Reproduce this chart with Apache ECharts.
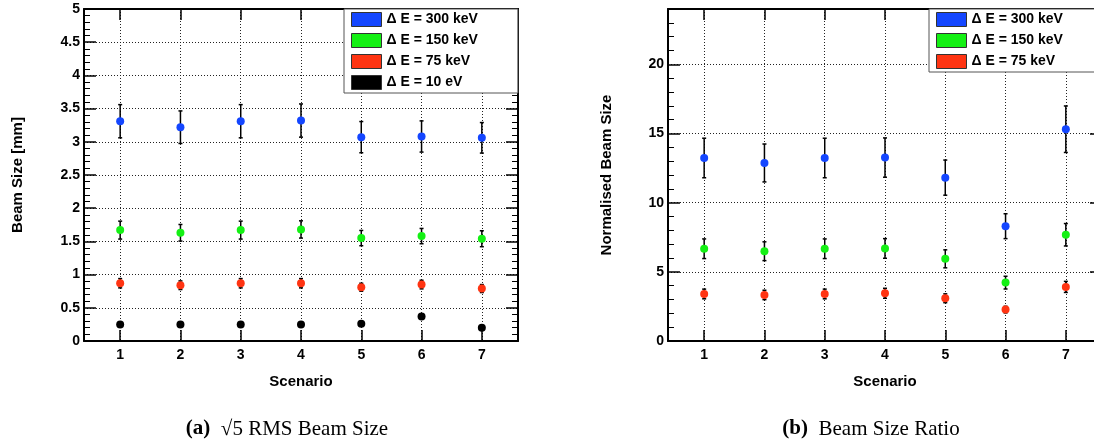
<!DOCTYPE html>
<html>
<head>
<meta charset="utf-8">
<title>Beam Size</title>
<script src="https://cdn.jsdelivr.net/npm/echarts@6.0.0/dist/echarts.min.js"></script>
<style>
	html, body {margin: 0; padding: 0; background: #fff;}
	#main {width: 1094px; height: 446px;}
</style>
</head>
<body>
<div id="main"></div>
<script>
// scenario numbers (x tick labels)
var scenarios = [1, 2, 3, 4, 5, 6, 7];
var seriesNames = ["Δ E = 300 keV", "Δ E = 150 keV", "Δ E = 75 keV", "Δ E = 10 eV"];

// (a) sqrt5 RMS beam size [mm]
var sizeE300 = [3.31, 3.22, 3.31, 3.32, 3.07, 3.08, 3.06];
var sizeE300Err = [0.25, 0.245, 0.25, 0.25, 0.235, 0.235, 0.23];
var sizeE150 = [1.67, 1.63, 1.67, 1.68, 1.55, 1.58, 1.54];
var sizeE150Err = [0.135, 0.125, 0.135, 0.13, 0.115, 0.115, 0.12];
var sizeE75 = [0.87, 0.84, 0.87, 0.87, 0.81, 0.85, 0.79];
var sizeE75Err = [0.07, 0.065, 0.07, 0.07, 0.06, 0.065, 0.06];
var sizeE10 = [0.25, 0.25, 0.25, 0.25, 0.26, 0.37, 0.20];
var sizeE10Err = [0.01, 0.01, 0.01, 0.01, 0.01, 0.015, 0.01];

// (b) normalised beam size (ratio)
var ratioE300 = [13.23, 12.87, 13.23, 13.26, 11.81, 8.30, 15.31];
var ratioE300Err = [1.43, 1.37, 1.43, 1.42, 1.27, 0.9, 1.68];
var ratioE150 = [6.67, 6.49, 6.67, 6.69, 5.94, 4.22, 7.68];
var ratioE150Err = [0.71, 0.68, 0.71, 0.71, 0.65, 0.46, 0.81];
var ratioE75 = [3.40, 3.33, 3.40, 3.45, 3.09, 2.27, 3.91];
var ratioE75Err = [0.35, 0.34, 0.35, 0.36, 0.32, 0.24, 0.4];

var colors = ["#1446ff", "#14f014", "#ff3412", "#000000"];
var labelFont = "Liberation Sans";

function points(values) {
	var list = [];
	for (var i = 0; i < scenarios.length; i++) {
		list.push([scenarios[i], values[i]]);
	}
	return list;
}

function errors(values, errs) {
	var list = [];
	for (var i = 0; i < scenarios.length; i++) {
		list.push([scenarios[i], values[i] - errs[i], values[i] + errs[i]]);
	}
	return list;
}

function renderErrorBar(params, api) {
	var top = api.coord([api.value(0), api.value(2)]);
	var bottom = api.coord([api.value(0), api.value(1)]);
	var cap = 2;
	var style = {stroke : "#000", lineWidth : 1.5};
	return {
		type : "group",
		children : [
			{type : "line", shape : {x1 : top[0], y1 : top[1], x2 : bottom[0], y2 : bottom[1]}, style : style},
			{type : "line", shape : {x1 : top[0] - cap, y1 : top[1], x2 : top[0] + cap, y2 : top[1]}, style : style},
			{type : "line", shape : {x1 : bottom[0] - cap, y1 : bottom[1], x2 : bottom[0] + cap, y2 : bottom[1]}, style : style}
		]
	};
}

function gridLine() {
	return {show : true, lineStyle : {color : "#222", width : 1, type : [1, 2]}};
}

function xAxisFor(gridIndex, position, withLabels) {
	return {
		type : "value",
		gridIndex : gridIndex,
		position : position,
		min : 0.4,
		max : 7.6,
		name : withLabels ? "Scenario" : "",
		nameLocation : "middle",
		nameGap : 33,
		nameTextStyle : {fontFamily : labelFont, fontWeight : "bold", fontSize : 15, color : "#000"},
		axisLine : {show : true, onZero : false, lineStyle : {color : "#000", width : 2}},
		axisTick : {show : true, inside : true, length : 11, customValues : scenarios, lineStyle : {color : "#000", width : 1.5}},
		axisLabel : {show : withLabels, customValues : scenarios, margin : 7, fontFamily : labelFont, fontWeight : "bold", fontSize : 14, color : "#000"},
		splitLine : withLabels ? gridLine() : {show : false},
		minorTick : {show : false}
	};
}

function yAxisFor(gridIndex, position, max, interval, name, nameGap) {
	var withLabels = position == "left";
	return {
		type : "value",
		gridIndex : gridIndex,
		position : position,
		min : 0,
		max : max,
		interval : interval,
		name : withLabels ? name : "",
		nameLocation : "middle",
		nameGap : nameGap,
		nameTextStyle : {fontFamily : labelFont, fontWeight : "bold", fontSize : 15, color : "#000"},
		axisLine : {show : true, onZero : false, lineStyle : {color : "#000", width : 2}},
		axisTick : {show : true, inside : true, length : 12, lineStyle : {color : "#000", width : 1.5}},
		minorTick : {show : true, splitNumber : 5, length : 6, lineStyle : {color : "#000", width : 1}},
		axisLabel : {
			show : withLabels, margin : 4, showMaxLabel : max % interval == 0,
			fontFamily : labelFont, fontWeight : "bold", fontSize : 14, color : "#000"
		},
		splitLine : withLabels ? gridLine() : {show : false}
	};
}

function scatterSeries(name, values, colorIndex, axisIndex) {
	return {
		name : name,
		type : "scatter",
		xAxisIndex : axisIndex,
		yAxisIndex : axisIndex,
		symbol : "circle",
		symbolSize : 8,
		itemStyle : {color : colors[colorIndex], opacity : 1},
		z : 4,
		data : points(values)
	};
}

function errorSeries(values, errs, axisIndex) {
	return {
		type : "custom",
		xAxisIndex : axisIndex,
		yAxisIndex : axisIndex,
		renderItem : renderErrorBar,
		z : 3,
		silent : true,
		data : errors(values, errs)
	};
}

function legendFor(left, names) {
	return {
		orient : "vertical",
		left : left,
		top : 9,
		data : names,
		icon : "rect",
		itemWidth : 30,
		itemHeight : 14,
		itemGap : 6,
		padding : [3, 40, 3, 7],
		backgroundColor : "#fff",
		borderColor : "#555",
		borderWidth : 1,
		borderRadius : 0,
		selectedMode : false,
		itemStyle : {borderColor : "#333", borderWidth : 1},
		textStyle : {fontFamily : labelFont, fontWeight : "bold", fontSize : 14, color : "#000"}
	};
}

var chart = echarts.init(document.getElementById("main"), null, {renderer : "canvas"});

var option = {
	animation : false,
	backgroundColor : "#fff",
	grid : [
		{left : 84, right : 576, top : 9, bottom : 105, outerBoundsMode : "none"},
		{left : 668, right : -8, top : 9, bottom : 105, outerBoundsMode : "none"}
	],
	xAxis : [
		xAxisFor(0, "bottom", true),
		xAxisFor(0, "top", false),
		xAxisFor(1, "bottom", true),
		xAxisFor(1, "top", false)
	],
	yAxis : [
		yAxisFor(0, "left", 5, 0.5, "Beam Size [mm]", 59),
		yAxisFor(0, "right", 5, 0.5, "", 0),
		yAxisFor(1, "left", 24, 5, "Normalised Beam Size", 54),
		yAxisFor(1, "right", 24, 5, "", 0)
	],
	legend : [
		legendFor(344, seriesNames),
		legendFor(929, seriesNames.slice(0, 3))
	],
	graphic : [
		{
			type : "text", x : 287, y : 429,
			style : {
				text : "{b|(a)}  √5 RMS Beam Size",
				align : "center", verticalAlign : "middle",
				font : "21px 'Liberation Serif'", fill : "#000",
				rich : {b : {fontFamily : "Liberation Serif", fontSize : 21, fontWeight : "bold"}}
			}
		},
		{
			type : "text", x : 871, y : 429,
			style : {
				text : "{b|(b)}  Beam Size Ratio",
				align : "center", verticalAlign : "middle",
				font : "21px 'Liberation Serif'", fill : "#000",
				rich : {b : {fontFamily : "Liberation Serif", fontSize : 21, fontWeight : "bold"}}
			}
		}
	],
	series : [
		errorSeries(sizeE300, sizeE300Err, 0),
		errorSeries(sizeE150, sizeE150Err, 0),
		errorSeries(sizeE75, sizeE75Err, 0),
		errorSeries(sizeE10, sizeE10Err, 0),
		scatterSeries(seriesNames[0], sizeE300, 0, 0),
		scatterSeries(seriesNames[1], sizeE150, 1, 0),
		scatterSeries(seriesNames[2], sizeE75, 2, 0),
		scatterSeries(seriesNames[3], sizeE10, 3, 0),
		errorSeries(ratioE300, ratioE300Err, 2),
		errorSeries(ratioE150, ratioE150Err, 2),
		errorSeries(ratioE75, ratioE75Err, 2),
		scatterSeries(seriesNames[0], ratioE300, 0, 2),
		scatterSeries(seriesNames[1], ratioE150, 1, 2),
		scatterSeries(seriesNames[2], ratioE75, 2, 2)
	]
};

chart.setOption(option);
</script>
</body>
</html>
